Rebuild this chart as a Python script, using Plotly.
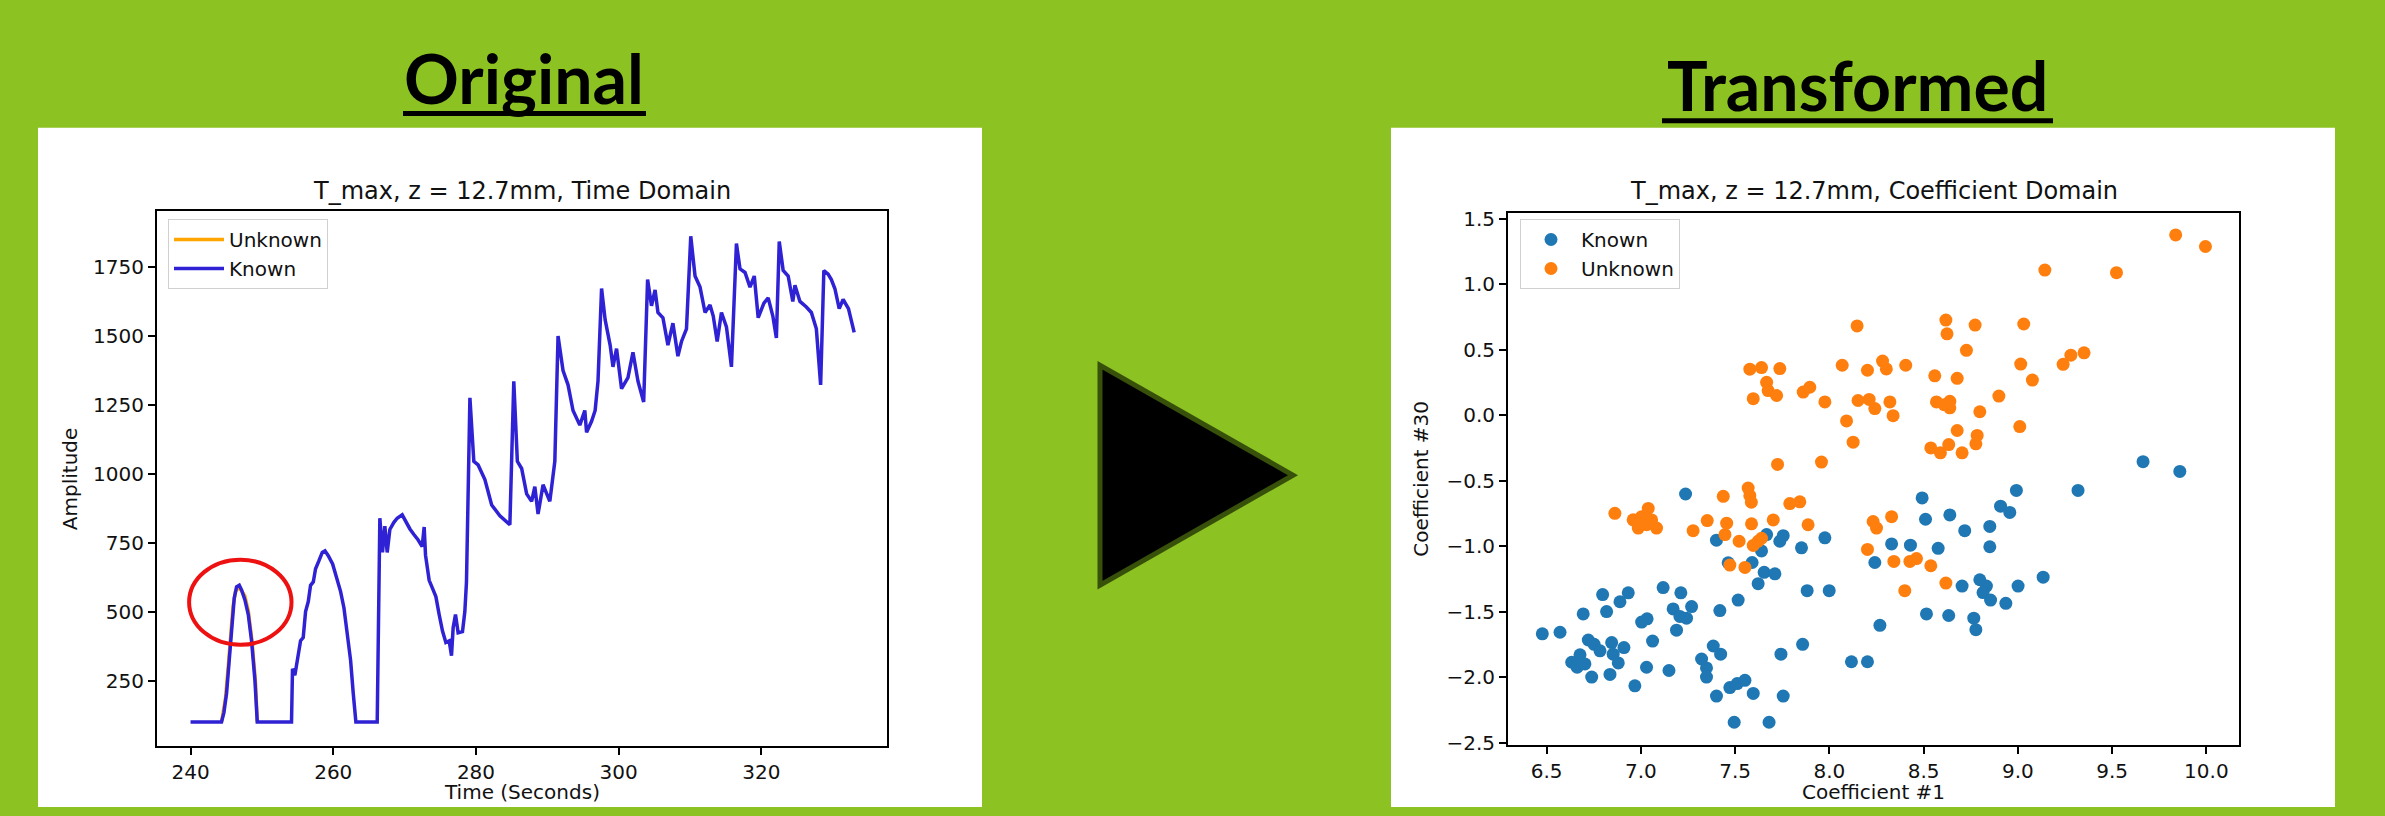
import plotly.graph_objects as go

W, H = 2385, 816
GREEN = "#8DC223"

# ---------------- data: time domain (left) ----------------
known_t = [240.0, 244.34, 244.67, 245.05, 245.42, 245.8, 246.12, 246.45, 246.83, 247.15, 247.62, 248.09, 248.55, 249.02, 249.35,
           254.15, 254.29, 254.62, 255.09, 255.42, 255.79, 256.12, 256.5, 256.82, 257.2, 257.52, 258.0, 258.46, 258.84, 259.3,
           259.91, 260.47, 261.03, 261.5, 261.96, 262.43, 262.8, 263.17,
           266.16, 266.53, 266.9, 267.23, 267.56, 267.93, 268.5, 268.96, 269.66, 270.18, 270.74, 271.3, 271.9, 272.46, 272.74,
           272.93, 273.44, 273.91, 274.38, 274.84, 275.31, 275.78, 276.24, 276.57, 276.8, 277.13, 277.5, 278.11, 278.44, 278.67,
           279.15, 279.7, 280.3, 281.25, 282.2, 283.35, 284.75, 285.3, 285.8, 286.4, 287.1, 287.8, 288.25, 288.7, 289.4, 290.35,
           291.05, 291.5, 292.2, 292.9, 293.6, 294.55, 295.25, 295.5, 296.2, 296.7, 297.1, 297.6, 298.1, 298.8, 299.2, 299.7,
           300.4, 301.3, 302.0, 302.7, 303.5, 304.05, 304.6, 305.1, 305.5, 306.2, 306.9, 307.6, 308.3, 308.8, 309.5, 310.1,
           310.7, 311.4, 312.1, 312.8, 313.25, 313.8, 314.4, 315.1, 315.8, 316.5, 317.0, 317.7, 318.4, 319.0, 319.55, 320.35,
           320.95, 321.6, 322.1, 322.5, 323.05, 323.75, 324.4, 324.7, 325.4, 326.3, 327.0, 327.7, 328.3, 328.75, 329.35, 329.8,
           330.3, 330.9, 331.45, 332.2, 333.0]
known_v = [103, 103, 136, 207, 326, 468, 551, 592, 598, 581, 545, 492, 397, 255, 103,
           103, 296, 272, 338, 397, 409, 503, 539, 598, 610, 658, 687, 717, 723, 705,
           675, 628, 575, 516, 432, 326, 207, 103,
           103, 841, 717, 812, 717, 800, 826, 841, 853, 826, 802, 782, 762, 738, 809,
           707, 616, 587, 557, 492, 432, 391, 397, 343, 444, 492, 426, 430, 503, 610,
           1277, 1047, 1034, 981, 889, 850, 817, 1337, 1047, 1021, 929, 902, 955, 856, 962, 902,
           1047, 1501, 1376, 1324, 1231, 1178, 1231, 1152, 1192, 1231, 1337, 1673, 1560, 1468, 1389, 1455,
           1310, 1350, 1442, 1337, 1262, 1705, 1610, 1668, 1586, 1567, 1468, 1547, 1428, 1481, 1527, 1862,
           1718, 1678, 1586, 1613, 1573, 1481, 1586, 1534, 1389, 1836, 1744, 1731, 1678, 1718, 1567, 1620,
           1639, 1573, 1494, 1843, 1738, 1718, 1626, 1685, 1626, 1606, 1586, 1527, 1324, 1738, 1725, 1705,
           1672, 1600, 1633, 1600, 1514]
unknown_t = [244.34, 244.9, 245.3, 245.6, 245.95, 246.3, 246.7, 247.1, 247.6, 248.1, 248.6, 249.1, 249.35]
unknown_v = [103, 190, 310, 420, 520, 575, 590, 580, 560, 505, 400, 250, 103]

# ---------------- data: coefficient domain (right) ----------------
known_c1 = [9.664, 9.859, 8.992, 9.319, 8.492, 8.510, 8.639, 8.908, 8.957, 8.718, 8.851, 8.851, 8.330, 8.430, 8.577,
            8.241, 9.134, 9.001, 8.798, 8.833, 8.815, 8.855, 8.704, 8.936, 8.515, 8.633, 8.766, 8.777, 8.268, 8.117,
            8.202, 7.237, 7.401, 7.463, 7.667, 7.737, 7.755, 7.640, 7.590, 7.654, 7.711, 7.622, 7.852, 7.976, 7.882,
            7.999, 7.516, 7.419, 7.118, 7.212, 7.171, 7.207, 7.242, 7.269, 7.189, 6.933, 6.889, 6.797, 6.818, 6.694,
            7.004, 7.033, 7.062, 6.477, 6.571, 6.721, 6.752, 6.783, 6.845, 6.853, 6.880, 6.910, 6.677, 6.633, 6.662,
            6.703, 6.739, 6.836, 6.968, 7.030, 7.149, 7.322, 7.348, 7.348, 7.384, 7.423, 7.401, 7.472, 7.511, 7.552,
            7.596, 7.743, 7.755, 7.858, 7.495, 7.680]
known_c30 = [-0.355, -0.430, -0.575, -0.575, -0.632, -0.795, -0.762, -0.695, -0.743, -0.882, -0.850, -1.005, -0.983, -0.993, -1.017,
             -1.125, -1.237, -1.305, -1.257, -1.305, -1.355, -1.412, -1.305, -1.437, -1.518, -1.530, -1.550, -1.638, -1.605, -1.883,
             -1.883, -0.602, -0.955, -1.127, -0.912, -0.963, -0.920, -1.037, -1.125, -1.200, -1.212, -1.287, -1.013, -0.937, -1.340,
             -1.340, -1.412, -1.492, -1.317, -1.357, -1.480, -1.537, -1.550, -1.462, -1.642, -1.357, -1.425, -1.370, -1.500, -1.518,
             -1.580, -1.555, -1.725, -1.670, -1.658, -1.717, -1.750, -1.800, -1.737, -1.825, -1.892, -1.775, -1.830, -1.887, -1.925,
             -1.900, -2.000, -1.980, -2.067, -1.925, -1.950, -1.862, -1.930, -2.000, -1.763, -1.825, -2.145, -2.080, -2.050, -2.025,
             -2.125, -1.825, -2.145, -1.750, -2.345, -2.345]
unknown_c1 = [9.837, 9.995, 9.143, 9.523, 8.618, 8.624, 8.147, 8.773, 9.031, 8.727, 8.068, 8.202, 8.282, 8.302, 8.405,
              8.559, 8.678, 9.015, 9.077, 9.240, 9.281, 9.351, 7.578, 7.640, 7.737, 7.667, 7.675, 7.720, 7.596, 7.861,
              7.896, 7.976, 8.152, 8.211, 8.241, 8.321, 8.338, 8.091, 8.126, 7.725, 7.958, 8.568, 8.609, 8.639, 8.639,
              8.899, 8.798, 8.678, 9.010, 8.784, 8.777, 8.538, 8.589, 8.633, 8.704,
              6.862, 6.959, 7.004, 7.039, 7.030, 7.083, 6.986, 7.057, 7.277, 7.352, 7.437, 7.569, 7.578, 7.586, 7.455,
              7.446, 7.521, 7.587, 7.596, 7.622, 7.640, 7.472, 7.552, 7.702, 7.790, 7.843, 7.887, 8.202, 8.232, 8.250,
              8.330, 8.342, 8.427, 8.462, 8.538, 8.618, 8.400]
unknown_c30 = [1.376, 1.288, 1.108, 1.088, 0.726, 0.621, 0.681, 0.688, 0.696, 0.495, 0.381, 0.343, 0.413, 0.353, 0.381,
               0.300, 0.281, 0.390, 0.268, 0.388, 0.458, 0.476, 0.351, 0.363, 0.356, 0.251, 0.188, 0.150, 0.126, 0.176,
               0.213, 0.101, 0.112, 0.120, 0.050, 0.101, -0.004, -0.044, -0.206, -0.376, -0.358, 0.101, 0.080, 0.106, 0.056,
               0.146, 0.026, -0.117, -0.087, -0.155, -0.219, -0.250, -0.288, -0.225, -0.288,
               -0.750, -0.799, -0.775, -0.712, -0.837, -0.862, -0.862, -0.800, -0.882, -0.805, -0.620, -0.557, -0.615, -0.665, -0.825,
               -0.912, -0.963, -0.830, -0.995, -0.963, -0.940, -1.145, -1.163, -0.800, -0.675, -0.662, -0.837, -1.025, -0.812, -0.862,
               -0.775, -1.117, -1.117, -1.095, -1.150, -1.282, -1.340]

time_ticks = [240, 260, 280, 300, 320]
amp_ticks = [250, 500, 750, 1000, 1250, 1500, 1750]
c1_ticks = [6.5, 7.0, 7.5, 8.0, 8.5, 9.0, 9.5, 10.0]
c30_ticks = [-2.5, -2.0, -1.5, -1.0, -0.5, 0.0, 0.5, 1.0, 1.5]


def px(x):
    return x / W


def py(y):
    return 1 - y / H


TXT = "DejaVu Sans"
fig = go.Figure()

fig.add_trace(go.Scatter(x=unknown_t, y=unknown_v, mode="lines", name="Unknown",
                         line=dict(color="#FFA500", width=3.5), xaxis="x", yaxis="y", legend="legend"))
fig.add_trace(go.Scatter(x=known_t, y=known_v, mode="lines", name="Known",
                         line=dict(color="#2E22D4", width=3.5), xaxis="x", yaxis="y", legend="legend"))
fig.add_trace(go.Scatter(x=known_c1, y=known_c30, mode="markers", name="Known",
                         marker=dict(color="#1F77B4", size=13, line=dict(width=0)),
                         xaxis="x2", yaxis="y2", legend="legend2"))
fig.add_trace(go.Scatter(x=unknown_c1, y=unknown_c30, mode="markers", name="Unknown",
                         marker=dict(color="#FF7F0E", size=13, line=dict(width=0)),
                         xaxis="x2", yaxis="y2", legend="legend2"))

axis_common = dict(showline=True, linecolor="black", linewidth=2, mirror=True, ticks="outside",
                   ticklen=7, tickwidth=2, tickcolor="black", showgrid=False, zeroline=False,
                   tickfont=dict(family=TXT, size=20, color="#111111"))

legend_common = dict(xanchor="left", yanchor="top", itemwidth=50,
                     bgcolor="rgba(255,255,255,0.8)", bordercolor="#d0d0d0", borderwidth=1,
                     font=dict(family=TXT, size=20, color="#111111"))

fig.update_layout(
    width=W, height=H, margin=dict(l=0, r=0, t=0, b=0),
    paper_bgcolor=GREEN, plot_bgcolor="white", showlegend=True,
    xaxis=dict(domain=[px(157), px(887)], range=[235.3, 337.6], tickvals=time_ticks,
               anchor="y", **axis_common),
    yaxis=dict(domain=[py(754), py(209)], range=[15.4, 1953], tickvals=amp_ticks,
               anchor="x", **axis_common),
    xaxis2=dict(domain=[px(1508), px(2239)], range=[6.295, 10.173], tickvals=c1_ticks,
                ticktext=[f"{v:.1f}" for v in c1_ticks], anchor="y2", **axis_common),
    yaxis2=dict(domain=[py(753), py(210.7)], range=[-2.52, 1.545], tickvals=c30_ticks,
                ticktext=[f"{v:.1f}".replace("-", "\u2212") for v in c30_ticks], anchor="x2", **axis_common),
    legend=dict(x=px(168), y=py(217), **legend_common),
    legend2=dict(x=px(1520), y=py(217), **legend_common),
)

shapes = [
    # white panels
    dict(type="rect", xref="paper", yref="paper", x0=px(38), x1=px(982), y0=0, y1=py(124),
         fillcolor="white", line=dict(width=0), layer="below"),
    dict(type="rect", xref="paper", yref="paper", x0=px(1391), x1=px(2335), y0=0, y1=py(124),
         fillcolor="white", line=dict(width=0), layer="below"),
    # title underlines
    dict(type="line", xref="paper", yref="paper", x0=px(403), x1=px(646), y0=py(109.5), y1=py(109.5),
         line=dict(color="black", width=5)),
    dict(type="line", xref="paper", yref="paper", x0=px(1662), x1=px(2053), y0=py(117), y1=py(117),
         line=dict(color="black", width=5)),
    # arrow triangle
    dict(type="path", xref="paper", yref="paper",
         path=f"M {px(1100)} {py(366)} L {px(1100)} {py(590)} L {px(1293)} {py(478)} Z",
         fillcolor="black", line=dict(color="#37500A", width=5)),
    # red circle around the unknown segment
    dict(type="circle", xref="x", yref="y", x0=239.8, x1=254.15, y0=382.6, y1=690.8,
         line=dict(color="#EE1111", width=4)),
]
fig.update_layout(shapes=shapes)

ann = [
    dict(text="<b>Original</b>", x=px(524), y=py(116), xanchor="center", yanchor="bottom",
         font=dict(family="Lato", size=68, color="black")),
    dict(text="<b>Transformed</b>", x=px(1857), y=py(123), xanchor="center", yanchor="bottom",
         font=dict(family="Lato", size=68, color="black")),
    dict(text="T_max, z = 12.7mm, Time Domain", x=px(522), y=py(205), xanchor="center", yanchor="bottom",
         font=dict(family=TXT, size=24, color="#111111")),
    dict(text="T_max, z = 12.7mm, Coefficient Domain", x=px(1873.6), y=py(205), xanchor="center",
         yanchor="bottom", font=dict(family=TXT, size=24, color="#111111")),
    dict(text="Amplitude", x=px(70), y=py(482), xanchor="center", yanchor="middle", textangle=-90,
         font=dict(family=TXT, size=20, color="#111111")),
    dict(text="Time (Seconds)", x=px(522), y=py(815), xanchor="center", yanchor="bottom",
         font=dict(family=TXT, size=20, color="#111111")),
    dict(text="Coefficient #30", x=px(1421.6), y=py(482), xanchor="center", yanchor="middle", textangle=-90,
         font=dict(family=TXT, size=20, color="#111111")),
    dict(text="Coefficient #1", x=px(1873), y=py(815), xanchor="center", yanchor="bottom",
         font=dict(family=TXT, size=20, color="#111111")),
]
for a in ann:
    a.update(xref="paper", yref="paper", showarrow=False)
fig.update_layout(annotations=ann)

fig.write_html("out.html", config={"displayModeBar": False},
               post_script="document.body.style.margin='0';document.body.style.padding='0';"
                           "document.body.style.overflow='hidden';"
                           "document.body.style.background='" + GREEN + "';")
